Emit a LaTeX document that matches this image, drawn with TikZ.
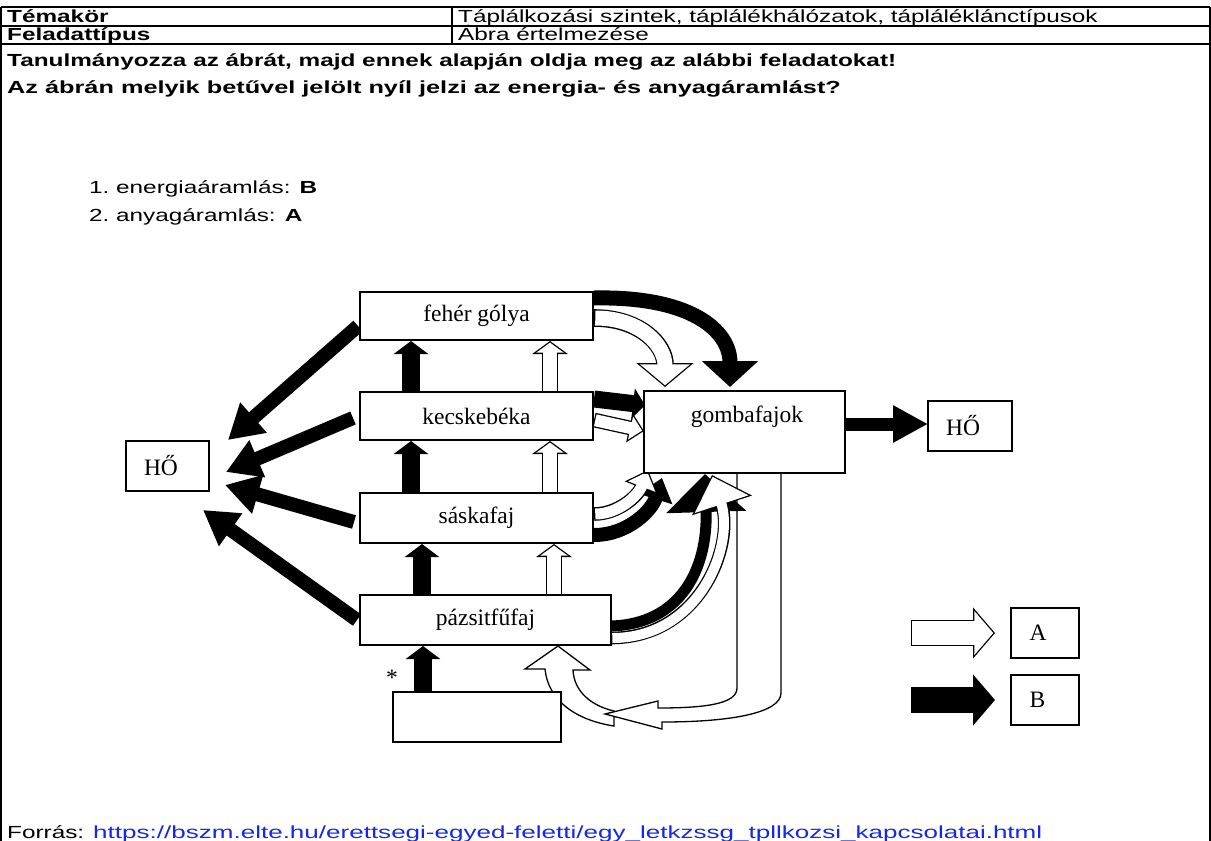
\documentclass[tikz,border=0pt]{standalone}
\usepackage{fontspec}
\setmainfont{Liberation Serif}
\newfontfamily\hsans{Liberation Sans}[FakeStretch=1.39]
\usetikzlibrary{arrows.meta}
\definecolor{linkblue}{RGB}{20,40,230}
\tikzset{
  x=1pt, y=-1pt,
  box/.style={draw, line width=1.3pt, fill=white, inner sep=0pt, font=\fontsize{23.5}{26}\selectfont},
  hdr/.style={anchor=base west, inner sep=0pt, font=\hsans\fontsize{17.5}{20}\selectfont},
  hdrb/.style={hdr, font=\hsans\bfseries\fontsize{17.5}{20}\selectfont},
  tbl/.style={line width=1.2pt},
  blk/.style n args={3}{draw=black, line width=#1pt, -{Triangle[length=#2pt,width=#3pt]}},
  wht/.code n args={3}{%
    \pgfmathsetmacro\whs{1.3/sin(atan(#3/(2*#2)))}%
    \pgfmathsetmacro\whL{#2-1.3-\whs}%
    \pgfmathsetmacro\whW{#3*\whL/#2}%
    \edef\whopts{draw=white, line width=#1pt, -{Triangle[length=\whL pt,width=\whW pt]}, shorten >=\whs pt, shorten <=1.3pt}%
    \expandafter\pgfkeysalso\expandafter{\whopts}%
  },
  outl/.style={draw=black, fill=white, line width=1.3pt, line join=miter},
}
\newcommand\hollow[4]{%
  \pgfmathsetmacro\hwo{#1+2.6}%
  \draw[blk={\hwo}{#2}{#3}] #4;
  \draw[wht={#1}{#2}{#3}] #4;
}
\begin{document}
\begin{tikzpicture}
\useasboundingbox (0,0) rectangle (1211,841);
\fill[white] (0,0) rectangle (1211,841);
% ---------- table ----------
\draw[tbl] (1,7) -- (1210,7);
\draw[tbl] (1,26) -- (1210,26);
\draw[tbl] (1,44) -- (1210,44);
\draw[tbl] (1,7) -- (1,841);
\draw[tbl] (1210,7) -- (1210,841);
\draw[tbl] (452,7) -- (452,44);
\node[hdrb] (t1) at (7,22.5) {Témakör};
\node[hdr] (t2) at (458,22.5) {Táplálkozási szintek, táplálékhálózatok, tápláléklánctípusok};
\node[hdrb] (t3) at (7,40.5) {Feladattípus};
\node[hdr] (t4) at (458,40.5) {Ábra értelmezése};
\node[hdrb] (t5) at (7,66) {Tanulmányozza az ábrát, majd ennek alapján oldja meg az alábbi feladatokat!};
\node[hdrb] (t6) at (7,93) {\scalebox{1.04}[1]{Az ábrán melyik betűvel jelölt nyíl jelzi az energia- és anyagáramlást?}};
\node[hdr] (n1) at (89,193) {1.};
\node[hdr] (l1) at (116,193) {energiaáramlás: \textbf{B}};
\node[hdr] (n2) at (89,221) {2.};
\node[hdr] (l2) at (116,221) {anyagáramlás: \textbf{A}};
\node[hdr] (src) at (7,838) {Forrás: \textcolor{linkblue}{\scalebox{1.07}[1]{https://bszm.elte.hu/erettsegi-egyed-feletti/egy\_letkzssg\_tpllkozsi\_kapcsolatai.html}}};
% ---------- coordinates ----------
\coordinate (v1s) at (411,392); \coordinate (v1e) at (411,341);
\coordinate (w1s) at (550,392); \coordinate (w1e) at (550,341);
\coordinate (v2s) at (411,493); \coordinate (v2e) at (411,441);
\coordinate (w2s) at (550,493); \coordinate (w2e) at (550,441);
\coordinate (v3s) at (422,595); \coordinate (v3e) at (422,544);
\coordinate (w3s) at (554,595); \coordinate (w3e) at (554,544);
\coordinate (v4s) at (423,692); \coordinate (v4e) at (423,646);
\coordinate (h1s) at (358,326); \coordinate (h1e) at (228,440);
\coordinate (h2s) at (353,418); \coordinate (h2e) at (226,472);
\coordinate (h3s) at (354,522); \coordinate (h3e) at (225,485);
\coordinate (h4s) at (357,620); \coordinate (h4e) at (203,510);
\coordinate (kbBs) at (594,399); \coordinate (kbBe) at (645,405);
\coordinate (kbWs) at (594,420); \coordinate (kbWe) at (644,431);
\coordinate (fgBs) at (594,298); \coordinate (fgBe) at (730,387);
\coordinate (fgWs) at (594,318); \coordinate (fgWe) at (665,387);
\coordinate (skBs) at (594,535); \coordinate (skBe) at (662,478);
\coordinate (skWs) at (594,514); \coordinate (skWe) at (648,470);
\coordinate (pzBs) at (611,626); \coordinate (pzBe) at (705,474);
\coordinate (pzWs) at (611,638); \coordinate (pzWe) at (712,475);
\coordinate (gHs) at (845,424); \coordinate (gHe) at (928,424);
\coordinate (lAs) at (911,633); \coordinate (lAe) at (995,633);
\coordinate (lBs) at (911,700); \coordinate (lBe) at (995,700);
% ---------- return arrows ----------
\draw[outl] (614,711) .. controls (592,706) and (574,692) .. (573,670) -- (590,670) -- (558,646) -- (525,669) -- (545,669)
  .. controls (548,700) and (575,720) .. (614,726) -- cycle;
\draw[outl] (737,473) -- (737,688) .. controls (737,704) and (705,708) .. (658,708) -- (658,701) -- (605,714)
  -- (662,729) -- (662,722) .. controls (735,722) and (781,712) .. (781,693) -- (781,473);
% ---------- vertical arrows ----------
\draw[blk={18}{13}{34}] (v1s) -- (v1e);
\draw[blk={18}{13}{34}] (v2s) -- (v2e);
\draw[blk={18}{13}{34}] (v3s) -- (v3e);
\draw[blk={18}{13}{34}] (v4s) -- (v4e);
\hollow{13.4}{13}{35}{(w1s) -- (w1e)}
\hollow{13.4}{13}{35}{(w2s) -- (w2e)}
\hollow{13.4}{13}{35}{(w3s) -- (w3e)}
% ---------- heat arrows ----------
\draw[blk={14}{34}{38}] (h1s) -- (h1e);
\draw[blk={14}{34}{38}] (h2s) -- (h2e);
\draw[blk={14}{34}{38}] (h3s) -- (h3e);
\draw[blk={14}{34}{38}] (h4s) -- (h4e);
% ---------- into gombafajok ----------
\draw[blk={15}{26}{55}] (fgBs) .. controls (690,296) and (730,330) .. (fgBe);
\hollow{15}{24}{56}{(fgWs) .. controls (640,318) and (665,345) .. (fgWe)}
\draw[blk={17}{12}{30}] (kbBs) -- (kbBe);
\hollow{12}{15}{29}{(kbWs) -- (kbWe)}
\draw[blk={14}{22}{34}] (skBs) .. controls (628,535) and (652,510) .. (skBe);
\hollow{11}{19}{34}{(skWs) .. controls (618,514) and (638,496) .. (skWe)}
\draw[blk={11}{38}{78}] (pzBs) .. controls (680,624) and (708,570) .. (pzBe);
\hollow{10}{32}{61}{(pzWs) .. controls (700,638) and (735,545) .. (pzWe)}
\draw[blk={13}{35}{35}] (gHs) -- (gHe);
% ---------- legend arrows ----------
\hollow{23.4}{22}{50}{(lAs) -- (lAe)}
\draw[blk={26}{22}{50}] (lBs) -- (lBe);
% ---------- boxes ----------
\node[box, minimum width=233, minimum height=48] (fg) at (476.5,316) {fehér gólya};
\node[box, minimum width=233, minimum height=48] (kb) at (476.5,416) {kecskebéka};
\node[box, minimum width=233, minimum height=50] (sk) at (476.5,518) {sáskafaj};
\node[box, minimum width=251, minimum height=50] (pz) at (485.5,620) {pázsitfűfaj};
\node[box, minimum width=168, minimum height=50] (soil) at (477,717) {};
\node[box, minimum width=83, minimum height=50] (hoL) at (167.5,466) {\hspace*{-13pt}HŐ};
\node[box, minimum width=201, minimum height=82] (gomba) at (744.5,432) {};
\node[inner sep=0pt, font=\fontsize{23.5}{26}\selectfont] (gtext) at (747,417) {gombafajok};
\node[box, minimum width=84, minimum height=50] (hoR) at (970,426) {\hspace*{-14pt}HŐ};
\node[box, minimum width=68, minimum height=50] (la) at (1045,633) {\hspace*{-14pt}A};
\node[box, minimum width=68, minimum height=50] (lb) at (1045,700) {\hspace*{-15pt}B};
\node[inner sep=0pt, font=\fontsize{23.5}{26}\selectfont] (star) at (392,678) {*};
\end{tikzpicture}
\end{document}
